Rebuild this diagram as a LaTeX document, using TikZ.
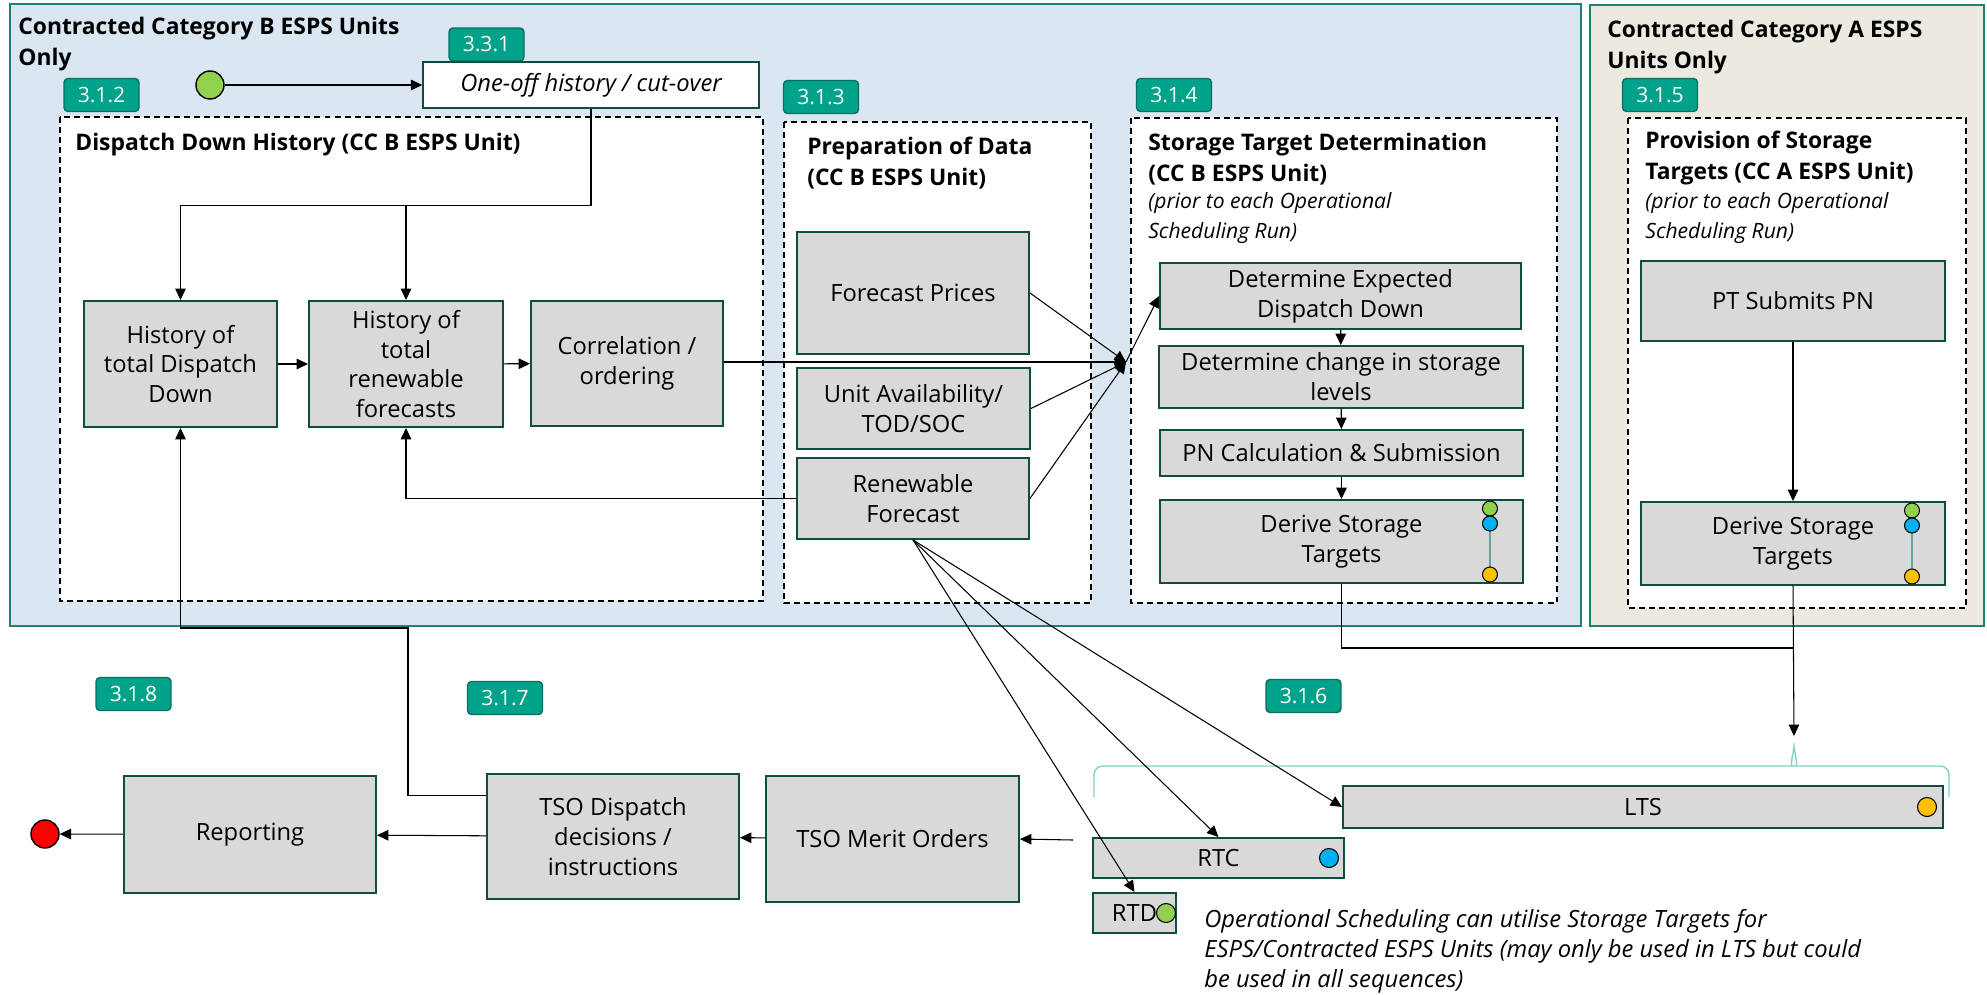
\documentclass[tikz,border=0pt]{standalone}
\usepackage{fontspec}
\setmainfont{Open Sans}
\usetikzlibrary{positioning,arrows.meta,calc}
\definecolor{zoneblue}{HTML}{DAE6F2}
\definecolor{zonebeige}{HTML}{ECE9E0}
\definecolor{zoneedge}{HTML}{1E8272}
\definecolor{boxedge}{HTML}{0F4D40}
\definecolor{boxfill}{HTML}{D9D9D9}
\definecolor{badgefill}{HTML}{00A38A}
\definecolor{badgeedge}{HTML}{0B6E5E}
\definecolor{dotgreen}{HTML}{92D050}
\definecolor{dotblue}{HTML}{00B0F0}
\definecolor{dotyellow}{HTML}{FFC000}
\definecolor{bracecol}{HTML}{7FD3C3}
\tikzset{
  % --- generic nodes ---------------------------------------------------
  base/.style   ={rectangle, align=center, inner sep=2pt,
                  font=\fontsize{13.5}{17}\selectfont},
  sz/.style 2 args={minimum width=#1*0.2mm, minimum height=#2*0.2mm},
  proc/.style   ={base, fill=boxfill, draw=boxedge, line width=1.1pt},   % process step
  plain/.style  ={base, fill=white, draw=boxedge, line width=0.8pt,
                  font=\fontsize{13.5}{17}\selectfont\itshape},
  % --- containers / annotation ----------------------------------------
  zone/.style   ={draw=zoneedge, line width=1.2pt},
  grp/.style    ={draw=black, fill=white, line width=0.8pt,
                  dash pattern=on 3.4pt off 2.3pt},
  badge/.style  ={rounded corners=2.3pt, fill=badgefill, draw=badgeedge,
                  line width=0.8pt, text=white, inner sep=0,
                  font=\fontsize{12}{14}\selectfont, sz={75}{33}},
  ttl/.style    ={font=\fontsize{13}{17.5}\selectfont\bfseries, align=left,
                  inner sep=0, anchor=north west},
  sub/.style    ={font=\fontsize{12}{17}\selectfont\itshape, align=left,
                  inner sep=0, anchor=north west},
  % --- markers ---------------------------------------------------------
  pip/.style    ={circle, draw=black, line width=0.6pt, inner sep=0,
                  minimum size=#1*0.2mm},
  evt/.style    ={circle, draw=black, line width=0.8pt, inner sep=0,
                  minimum size=28*0.2mm},
  % --- arrows ----------------------------------------------------------
  arrow/.style  ={-{Triangle[length=6.5pt,width=6pt]}, line width=0.6pt, draw=black},
  link/.style   ={line width=0.6pt, draw=black},
  tie/.style    ={draw=zoneedge!70, line width=0.6pt},
  bracket/.style={draw=bracecol, line width=0.8pt},
}
% three storage-target markers inside a box
\newcommand{\tgtdots}[2]{%
  \draw[tie] ($(#1.east)+(-34,-18)$) -- ($(#1.east)+(-34,33)$);
  \node[pip=15, fill=dotgreen]  (#2g) at ($(#1.east)+(-34,-33)$) {};
  \node[pip=15, fill=dotblue]   (#2b) at ($(#1.east)+(-34,-18)$) {};
  \node[pip=15, fill=dotyellow] (#2y) at ($(#1.east)+(-34,33)$) {};}

\begin{document}
\begin{tikzpicture}[x=0.2mm, y=-0.2mm]
  \useasboundingbox (0,0) rectangle (1987,994);

  % ===================== zones =====================
  \filldraw[zone, fill=zoneblue]  (10,4) rectangle (1581,626);
  \filldraw[zone, fill=zonebeige] (1590,5) rectangle (1984,626);
  \node[ttl] (ttlB) at (18,17) {Contracted Category B ESPS Units\\Only};
  \node[ttl] (ttlA) at (1607,20) {Contracted Category A ESPS\\Units Only};

  % ===================== dashed groups =====================
  \draw[grp] (60,117) rectangle (763,601);
  \draw[grp] (784,122) rectangle (1091,603);
  \draw[grp] (1131,118) rectangle (1557,603);
  \draw[grp] (1628,118) rectangle (1966,608);
  \node[ttl] (tHist) at (75,133) {Dispatch Down History (CC B ESPS Unit)};
  \node[ttl] (tPrep) at (807,137) {Preparation of Data\\(CC B ESPS Unit)};
  \node[ttl] (tStore) at (1148,133) {Storage Target Determination\\(CC B ESPS Unit)};
  \node[sub] (sStore) at (1148,192) {(prior to each Operational\\Scheduling Run)};
  \node[ttl] (tProv) at (1645,131) {Provision of Storage\\Targets (CC A ESPS Unit)};
  \node[sub] (sProv) at (1645,192) {(prior to each Operational\\Scheduling Run)};

  % ===================== badges =====================
  \node[badge] (b331) at (486.5,44.5) {3.3.1};
  \node[badge] (b312) at (101.5,95) {3.1.2};
  \node[badge] (b313) at (821,97) {3.1.3};
  \node[badge] (b314) at (1174,95) {3.1.4};
  \node[badge] (b315) at (1660,95) {3.1.5};
  \node[badge] (b318) at (133.5,694) {3.1.8};
  \node[badge] (b317) at (505,698) {3.1.7};
  \node[badge] (b316) at (1303.5,696) {3.1.6};

  % ===================== history (3.3.1 / 3.1.2) =====================
  \node[evt, fill=dotgreen] (start) at (210,85) {};
  \node[plain, sz={336}{46}] (oneoff) at (591,85) {One-off history / cut-over};
  \node[proc, sz={193}{126}] (hdd) at (180.5,364) {History of\\total Dispatch\\Down};
  \node[proc, sz={194}{126}] (hrf) at (406,364) {History of\\total\\renewable\\forecasts};
  \node[proc, sz={192}{125}] (corr) at (627,363.5) {Correlation /\\ordering};

  % ===================== preparation (3.1.3) =====================
  \node[proc, sz={232}{122}] (fprice) at (913,293) {Forecast Prices};
  \node[proc, sz={233}{81}] (avail) at (913.5,408.5) {Unit Availability/\\TOD/SOC};
  \node[proc, sz={232}{81}] (rfc) at (913,498.5) {Renewable\\Forecast};
  \coordinate (jn) at (1126,362);

  % ===================== storage targets (3.1.4 / 3.1.5) =====================
  \node[proc, sz={361}{66}] (dedd) at (1340.5,296) {Determine Expected\\Dispatch Down};
  \node[proc, sz={364}{62}] (dchg) at (1341,377) {Determine change in storage\\levels};
  \node[proc, sz={363}{46}] (pncalc) at (1341.5,453) {PN Calculation \& Submission};
  \node[proc, sz={363}{83}] (dstB) at (1341.5,541.5) {Derive Storage\\Targets};
  \tgtdots{dstB}{mB}
  \node[proc, sz={304}{80}] (ptpn) at (1793,301) {PT Submits PN};
  \node[proc, sz={304}{83}] (dstA) at (1793,543.5) {Derive Storage\\Targets};
  \tgtdots{dstA}{mA}

  % ===================== operational scheduling (3.1.6) =====================
  \node[proc, sz={600}{42}] (lts) at (1643,807) {LTS};
  \node[proc, sz={251}{40}] (rtc) at (1218.5,858) {RTC};
  \node[proc, sz={83}{40}] (rtd) at (1134.5,913) {RTD};
  \node[pip=19, fill=dotyellow] (mLts) at (1927,807) {};
  \node[pip=19, fill=dotblue] (mRtc) at (1329,858) {};
  \node[pip=19, fill=dotgreen] (mRtd) at (1166,913) {};
  \coordinate (bt) at (1794,736);
  \coordinate (mrg) at (1794,648);
  \coordinate (rtcin) at (1073,840);
  \draw[bracket, rounded corners=5pt] (1094,797) |- (1787,766)
    to[out=0,in=-90] (1794,738) to[out=-90,in=180] (1801,766) -| (1949,797);
  \node[sub, font=\fontsize{13.5}{17}\selectfont\itshape] (note) at (1204,909)
    {Operational Scheduling can utilise Storage Targets for\\
     ESPS/Contracted ESPS Units (may only be used in LTS but could\\
     be used in all sequences)};

  % ===================== TSO / reporting (3.1.7 / 3.1.8) =====================
  \node[proc, sz={253}{126}] (merit) at (892.5,839) {TSO Merit Orders};
  \node[proc, sz={252}{125}] (tsodisp) at (613,836.5) {TSO Dispatch\\decisions /\\instructions};
  \node[proc, sz={252}{117}] (report) at (250,834.5) {Reporting};
  \node[evt, fill=red] (stop) at (45,834) {};
  \coordinate (fb) at (408,628);

  % ===================== edges =====================
  \draw[arrow] (start) -- (oneoff.west);
  \draw[arrow] (oneoff.south) -- ++(0,97) -| (hdd.north);
  \draw[arrow] (oneoff.south) -- ++(0,97) -| (hrf.north);
  \draw[arrow] (hdd) -- (hrf);
  \draw[arrow] (hrf) -- (corr);
  \draw[arrow] (corr.east |- jn) -- (jn);
  \draw[arrow] (fprice.east) -- (jn);
  \draw[arrow] (avail.east) -- (jn);
  \draw[arrow] (rfc.east) -- (jn);
  \draw[arrow] (jn) -- (dedd.west);
  \draw[arrow] (rfc.west) -| (hrf.south);
  \draw[arrow] (dedd) -- (dchg);
  \draw[arrow] (dchg) -- (pncalc);
  \draw[arrow] (pncalc) -- (dstB);
  \draw[arrow] (ptpn) -- (dstA);
  % into operational scheduling
  \draw[link] (dstB.south) |- (mrg);
  \draw[arrow] (dstA.south) -- (bt);
  \draw[arrow] (rfc.south) -- (lts.west);
  \draw[arrow] (rfc.south) -- (rtc.north);
  \draw[arrow] (rfc.south) -- (rtd.north);
  % dispatch chain
  \draw[arrow] (rtcin) -- (merit.east);
  \draw[arrow] (merit) -- (tsodisp);
  \draw[arrow] (tsodisp) -- (report);
  \draw[arrow] (report) -- (stop);
  \draw[arrow] ($(tsodisp.north west)+(0,22)$) -| (fb) -| (hdd.south);

\end{tikzpicture}
\end{document}
